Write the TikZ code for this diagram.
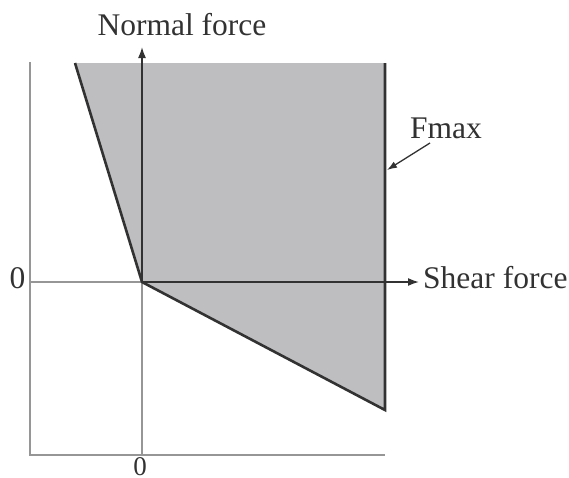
\documentclass[tikz,border=0pt]{standalone}
\usepackage{fontspec}
\setmainfont{Liberation Serif}
\usetikzlibrary{arrows.meta}
\definecolor{fillgray}{RGB}{190,190,193}
\definecolor{framegray}{RGB}{150,150,150}
\definecolor{inkgray}{RGB}{50,50,50}
\begin{document}
\begin{tikzpicture}[x=1pt,y=-1pt,
  frame/.style={draw=framegray, line width=1.4pt},
  edge/.style={draw=inkgray, line width=2.6pt, line join=miter},
  axis/.style={draw=inkgray, line width=1.6pt, -{Latex[length=11pt,width=8pt]}},
  pointer/.style={draw=inkgray, line width=1.3pt, -{Latex[length=10pt,width=7pt]}},
  lab/.style={font=\fontsize{31.5}{36}\selectfont, inner sep=0pt, text=inkgray}]
\useasboundingbox (0,0) rectangle (569,477);
\coordinate (O) at (142,282);
\coordinate (TL) at (75,63);
\coordinate (TR) at (385,63);
\coordinate (BR) at (385,410);
\coordinate (F1) at (30,62);
\coordinate (F2) at (30,455);
\coordinate (F3) at (385,455);
\coordinate (XL) at (30,282);
\coordinate (YB) at (142,455);
\coordinate (YT) at (142,47);
\coordinate (XT) at (419,282);
\coordinate (FA) at (430,143);
\coordinate (FB) at (387,170);
\fill[fillgray] (TL) -- (TR) -- (BR) -- (O) -- cycle;
\draw[frame] (F1) -- (F2) -- (F3);
\draw[frame] (XL) -- (O);
\draw[frame] (O) -- (YB);
\draw[axis] (O) -- (YT);
\draw[axis] (O) -- (XT);
\draw[edge] (TL) -- (O) -- (BR) -- (TR);
\draw[pointer] (FA) -- (FB);
\node[lab, anchor=base] (nf) at (182,35) {Normal force};
\node[lab, anchor=base west] (sf) at (423,288) {Shear force};
\node[lab, anchor=base west] (fm) at (410,138) {Fmax};
\node[lab, anchor=base] (z1) at (17.5,288) {0};
\node[lab, font=\fontsize{27}{30}\selectfont, anchor=north] (z2) at (140,457) {0};
\end{tikzpicture}
\end{document}
